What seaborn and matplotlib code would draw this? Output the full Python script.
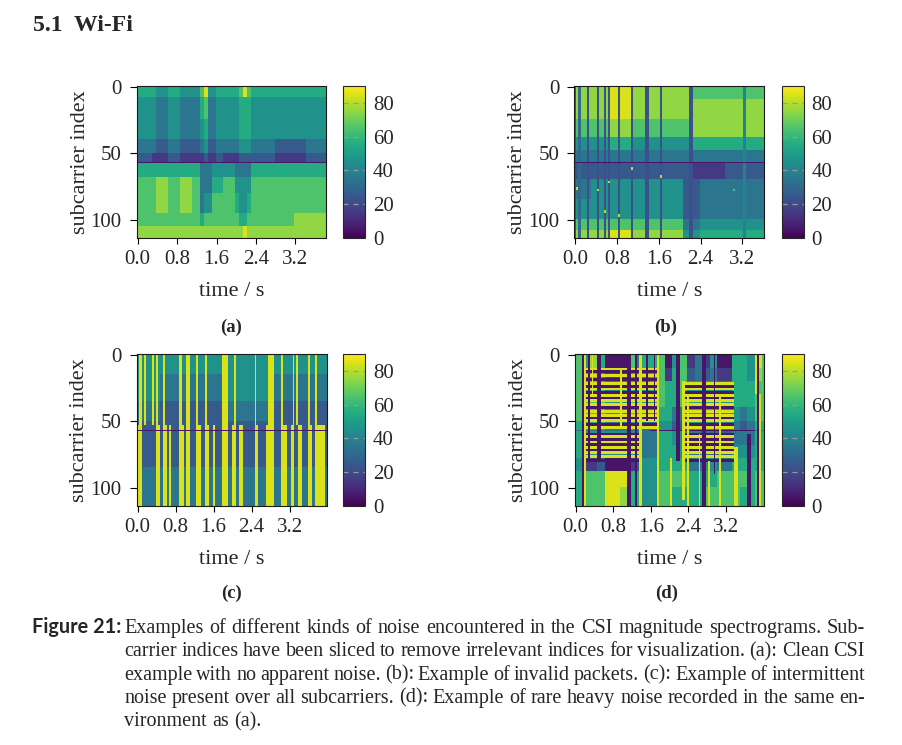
import numpy as np
import seaborn as sns
from matplotlib import pyplot as plt

sns.set_style('white')
plt.rcParams['font.family'] = ['Liberation Serif', 'DejaVu Serif']
plt.rcParams['axes.linewidth'] = 0.8

W, H = 902, 745
DT = 0.04        # seconds per spectrogram column
N_SUB = 114      # subcarriers left after slicing

sub_ticks = [0, 50, 100]
time_ticks = [0.0, 0.8, 1.6, 2.4, 3.2]
cbar_ticks = [0, 20, 40, 60, 80]

# grids: one row per subcarrier band, one digit per coarse time cell,
# the digit is the magnitude decade (cell drawn at digit*10 + 5)

# (a) clean CSI, coarse cells of 0.08 s
a_bands = [0, 8, 25, 40, 50, 57, 58, 68, 80, 95, 105, 114]
a_grid = [
    "55555444 55544444 68445555 55686555 55555555 55555555",
    "44444333 44433333 56334444 44555444 44444444 44444444",
    "44444333 44433333 45334444 44555444 44444444 44444444",
    "33333222 33322222 34223333 33444333 33322222 22233333",
    "22221111 22211111 12112211 11222222 22211111 11122222",
    "00000000 00000000 00000000 00000000 00000000 00000000",
    "55555555 55555555 33344444 43333555 55555555 55555555",
    "66666777 66677766 33355566 64444666 66666666 66666666",
    "66666777 66677766 34466666 65445666 66666666 66666666",
    "66666666 66666666 56666666 66556666 66666666 77777777",
    "77777777 77777777 77777777 77787777 77777777 77777777",
]
a_cols = 96

# (b) invalid packets, coarse cells of 0.16 s
b_bands = [0, 10, 25, 38, 48, 57, 58, 70, 85, 100, 108, 114]
b_grid = [
    "77778887777777666666666",
    "77778887777777777777777",
    "66667776666666777777777",
    "44445554444444555555555",
    "33333333333333333333333",
    "00000000000000000000000",
    "22222222222222111122222",
    "33444444444442233333333",
    "44444444444442233333333",
    "66666666666663344444444",
    "77778887777774455555555",
]
b_cols = 91
b_drop_t = [0.01, 0.07, 0.22, 0.43, 0.55, 0.62, 0.83, 1.07, 1.36, 1.39, 1.63, 2.19, 2.22, 3.23]
b_drop_val = [22, 30, 22, 22, 22, 22, 22, 22, 22, 22, 22, 22, 22, 40]
b_spot_t = [0.04, 0.43, 0.55, 0.62, 0.83, 1.07, 1.63, 3.04]
b_spot_row = [76, 77, 93, 71, 96, 61, 67, 77]
b_spot_val = [85, 80, 80, 80, 80, 80, 80, 65]

# (c) intermittent noise, coarse cells of 0.16 s
c_bands = [0, 15, 35, 50, 57, 58, 85, 114]
c_grid = [
    "4444444444444444444444444",
    "4443333333334444443333333",
    "3332222222223333332222222",
    "2222222222222222222222222",
    "0000000000000000000000000",
    "2222222222222222222222222",
    "3333333333333333333333333",
]
c_cols = 100
c_upper = [(0.04, 0.12), (0.16, 0.20), (0.32, 0.36), (0.40, 0.44), (0.56, 0.60), (0.88, 0.96),
           (1.04, 1.12), (1.24, 1.28), (1.44, 1.48), (1.80, 1.92), (2.04, 2.08), (2.48, 2.52),
           (2.76, 2.88), (3.04, 3.08), (3.28, 3.32), (3.36, 3.40), (3.60, 3.64), (3.76, 3.80)]
c_lower = [(0.00, 0.12), (0.40, 0.50), (0.56, 0.64), (0.68, 0.72), (0.88, 1.00), (1.04, 1.12),
           (1.24, 1.36), (1.44, 1.52), (1.60, 1.64), (1.80, 1.92), (2.00, 2.08), (2.16, 2.24),
           (2.48, 2.56), (2.72, 2.88), (3.04, 3.16), (3.24, 3.32), (3.40, 3.48), (3.60, 3.68),
           (3.76, 3.96)]
c_stripe_val = 85

# (d) rare heavy noise, coarse cells of 0.16 s
d_bands = [0, 10, 20, 30, 40, 50, 57, 58, 68, 78, 88, 100, 114]
d_grid = [
    "64750006355604613140055486",
    "65641115345615623231155476",
    "65653345445655644443355566",
    "66664446545655655554455566",
    "66664446544553355554443466",
    "55553335433442244443332355",
    "33333333330000000000000033",
    "54444444333554433332233355",
    "54444444333555433332244455",
    "41120001244555533443355555",
    "56668885544666655556666566",
    "56668875544665555666665566",
]
d_cols = 101
d_bar_spans = [(0.14, 1.40, 8, 80), (1.40, 1.76, 0, 56), (2.28, 3.40, 20, 80)]
d_bright_rows = [10, 15, 21, 25, 30, 34, 37, 42, 45, 49, 54, 61, 65, 69, 73, 76]
d_dark_rows = [12, 18, 23, 28, 32, 39, 47, 52, 59, 63, 67, 71, 79]
d_yellow = [(0.20, 0.24, 0, 114), (0.36, 0.40, 0, 30), (0.96, 1.00, 10, 55), (1.38, 1.42, 0, 114),
            (1.76, 1.80, 0, 114), (2.04, 2.08, 78, 114), (2.30, 2.36, 20, 110), (2.40, 2.44, 30, 114),
            (2.62, 2.66, 60, 114), (2.84, 2.88, 80, 114), (3.08, 3.12, 30, 114), (3.40, 3.48, 70, 114),
            (3.82, 3.88, 0, 30), (3.92, 3.96, 30, 114)]
d_dark = [(0.14, 0.18, 0, 114), (0.28, 0.32, 0, 80), (0.48, 0.56, 0, 80), (1.12, 1.20, 0, 114),
          (1.28, 1.32, 0, 114), (1.52, 1.56, 0, 50), (1.66, 1.70, 0, 50), (2.18, 2.22, 0, 80),
          (2.72, 2.80, 0, 114), (2.94, 3.00, 0, 90), (3.68, 3.74, 60, 114), (3.88, 3.92, 0, 114)]

caption = [
    "Examples of different kinds of noise encountered in the CSI magnitude spectrograms.  Sub-",
    "carrier indices have been sliced to remove irrelevant indices for visualization. (a): Clean CSI",
    "example with no apparent noise. (b): Example of invalid packets. (c): Example of intermittent",
    "noise present over all subcarriers. (d): Example of rare heavy noise recorded in the same en-",
    "vironment as (a).",
]


def expand(bands, grid, rep, n_cols):
    rows = []
    for r0, r1, line in zip(bands[:-1], bands[1:], grid):
        vals = np.array([int(ch) * 10 + 5 for ch in line.replace(' ', '')], float)
        vals = np.repeat(vals, rep)
        vals = np.pad(vals, (0, max(0, n_cols - len(vals))), mode='edge')[:n_cols]
        rows.append(np.tile(vals, (r1 - r0, 1)))
    return np.vstack(rows)


def paint(m, t0, t1, r0, r1, v):
    c0 = int(round(t0 / DT))
    c1 = max(c0 + 1, int(round(t1 / DT)))
    m[r0:r1, c0:c1] = v


a_mat = expand(a_bands, a_grid, 2, a_cols)

b_mat = expand(b_bands, b_grid, 4, b_cols)
for t, v in zip(b_drop_t, b_drop_val):
    paint(b_mat, t, t + DT, 0, N_SUB, v)
for t, r, v in zip(b_spot_t, b_spot_row, b_spot_val):
    paint(b_mat, t, t + DT, r, r + 2, v)
b_mat[57] = 5

c_mat = expand(c_bands, c_grid, 4, c_cols)
for t0, t1 in c_upper:
    paint(c_mat, t0, t1, 0, 53, c_stripe_val)
for t0, t1 in c_lower:
    paint(c_mat, t0, t1, 53, N_SUB, c_stripe_val)
c_mat[57] = 5

d_mat = expand(d_bands, d_grid, 4, d_cols)
for t0, t1, lo, hi in d_bar_spans:
    for r in d_bright_rows:
        if lo <= r < hi:
            paint(d_mat, t0, t1, r, r + 2, 85)
    for r in d_dark_rows:
        if lo <= r < hi:
            paint(d_mat, t0, t1, r, r + 2, 5)
for t0, t1, r0, r1 in d_yellow:
    paint(d_mat, t0, t1, r0, r1, 85)
for t0, t1, r0, r1 in d_dark:
    paint(d_mat, t0, t1, r0, r1, 5)

fig = plt.figure(figsize=(W / 100, H / 100), dpi=100)


def px_axes(x0, y0, x1, y1):
    return fig.add_axes([x0 / W, 1 - y1 / H, (x1 - x0) / W, (y1 - y0) / H])


panels = [
    ('(a)', a_mat, (136.7, 86, 326, 238), (343, 86, 365, 238), (231, 331.5)),
    ('(b)', b_mat, (574.3, 86, 764.3, 238), (781.7, 86, 803.7, 238), (666, 331.5)),
    ('(c)', c_mat, (136.7, 354.3, 326.7, 505.7), (343.3, 354.3, 365.3, 505.7), (231.5, 598)),
    ('(d)', d_mat, (574.7, 354.3, 764.3, 505.7), (781.7, 354.3, 803.7, 505.7), (666.5, 598)),
]

for tag, mat, hbox, cbox, tpos in panels:
    ax = px_axes(*hbox)
    cax = px_axes(*cbox)
    sns.heatmap(mat, ax=ax, cbar_ax=cax, cmap='viridis', vmin=0, vmax=90,
                xticklabels=False, yticklabels=False, cbar_kws={'ticks': cbar_ticks})
    ax.set_xticks([t / DT + 0.5 for t in time_ticks])
    ax.set_xticklabels([f'{t:.1f}' for t in time_ticks], rotation=0)
    ax.set_yticks([s + 0.5 for s in sub_ticks])
    ax.set_yticklabels([str(s) for s in sub_ticks], rotation=0)
    ax.tick_params(axis='x', bottom=True, direction='out', length=4.5, width=0.8,
                   labelsize=15, pad=4.2, color='black')
    ax.tick_params(axis='y', left=True, direction='out', length=5.3, width=0.8,
                   labelsize=15, pad=5.6, color='black')
    for sp in ax.spines.values():
        sp.set_visible(True)
        sp.set_linewidth(0.8)
        sp.set_color('#1a1a1a')
    ax.set_xlabel('time / s', fontsize=16, va='baseline')
    ax.xaxis.set_label_coords(0.5, -0.382)
    ax.set_ylabel('subcarrier index', fontsize=16, va='baseline')
    ax.yaxis.set_label_coords(-0.275, 0.5)

    cbar = ax.collections[0].colorbar
    cbar.outline.set_linewidth(0.8)
    cax.tick_params(length=0, labelsize=15, pad=5.6)
    for v in cbar_ticks[1:]:
        cax.axhline(v, color='0.6', lw=0.9, ls=(0, (4, 4)))

    fig.text(tpos[0] / W, 1 - tpos[1] / H, tag, ha='center', va='baseline',
             fontsize=13.5, fontweight='bold')

fig.text(33 / W, 1 - 31 / H, '5.1  Wi-Fi', fontsize=17, fontweight='bold', va='baseline')

# caption, justified between two margins
renderer = fig.canvas.get_renderer()
cap_base = [633, 656.3, 679.6, 702.9, 726.2]
fig.text(32 / W, 1 - cap_base[0] / H, 'Figure 21:', family=['Lato', 'DejaVu Sans'],
         fontweight='bold', fontsize=14.3, va='baseline')
x_left, x_right = 124, 865
for i, line in enumerate(caption):
    words = line.split()
    texts = [fig.text(0, 1 - cap_base[i] / H, w, fontsize=14.5, va='baseline') for w in words]
    widths = [t.get_window_extent(renderer).width for t in texts]
    if i < len(caption) - 1:
        gap = (x_right - x_left - sum(widths)) / (len(words) - 1)
    else:
        gap = 0.26 * 14.5 * 100 / 72
    x = x_left
    for t, w in zip(texts, widths):
        t.set_x(x / W)
        x += w + gap

plt.savefig('out.png', dpi=100)
